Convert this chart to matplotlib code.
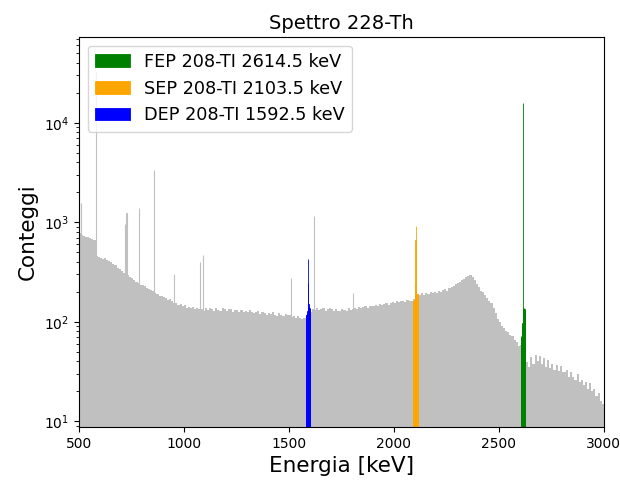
import numpy as np
import matplotlib
matplotlib.use("Agg")
import matplotlib.pyplot as plt

# Continuum counts, 10 keV bins from 500 to 3000 keV
continuum_start = 500
continuum_bin = 10
continuum = [
    775, 748, 724, 706, 716, 690, 680, 662, 455, 448,   # 500-600
    440, 432, 434, 416, 412, 402, 384, 370, 350, 340,   # 600-700
    326, 312, 300, 296, 282, 274, 262, 250, 246, 236,   # 700-800
    232, 228, 218, 212, 210, 202, 196, 192, 182, 180,   # 800-900
    178, 173, 165, 171, 160, 153, 153, 147, 151, 143,   # 900-1000
    147, 139, 142, 137, 142, 133, 138, 133, 134, 129,   # 1000-1100
    137, 131, 139, 133, 129, 138, 130, 127, 136, 133,   # 1100-1200
    128, 135, 133, 125, 131, 130, 124, 132, 126, 127,   # 1200-1300
    124, 130, 126, 121, 125, 128, 119, 124, 122, 117,   # 1300-1400
    122, 119, 124, 116, 115, 121, 117, 113, 119, 116,   # 1400-1500
    118, 112, 114, 108, 115, 109, 107, 110, 116, 118,   # 1500-1600
    126, 135, 131, 138, 130, 133, 136, 129, 134, 137,   # 1600-1700
    133, 129, 134, 128, 127, 134, 130, 128, 136, 131,   # 1700-1800
    135, 137, 134, 142, 138, 141, 144, 138, 145, 143,   # 1800-1900
    145, 147, 144, 152, 148, 151, 155, 149, 153, 158,   # 1900-2000
    154, 160, 157, 160, 162, 158, 166, 161, 163, 169,   # 2000-2100
    174, 180, 186, 193, 186, 194, 192, 197, 195, 201,   # 2100-2200
    196, 203, 201, 207, 213, 205, 217, 221, 231, 239,   # 2200-2300
    247, 253, 263, 268, 279, 286, 295, 283, 265, 239,   # 2300-2400
    226, 206, 197, 184, 173, 161, 153, 137, 123, 107,   # 2400-2500
    99, 91, 87, 81, 79, 73, 72, 65, 63, 57,             # 2500-2600
    58, 60, 44, 39, 35, 44, 38, 46, 40, 45,             # 2600-2700
    38, 43, 35, 41, 34, 38, 33, 37, 32, 36,             # 2700-2800
    31, 31, 33, 28, 31, 28, 26, 30, 25, 26,             # 2800-2900
    23, 25, 21, 24, 20, 21, 18, 19, 16, 15,             # 2900-3000
]

# Gamma lines outside the selected windows (energy keV, counts)
line_energy = [511, 583, 720, 727, 785, 860, 952, 1078, 1093, 1512, 1620, 1806]
line_counts = [1550, 33000, 950, 1230, 1400, 3350, 300, 400, 470, 275, 1150, 196]

# Selected windows, 1 keV bins, +/- 10 keV around each line
dep_center = 1592.5
dep_counts = [114, 117, 112, 118, 116, 121, 128, 136, 146, 432,
              248, 150, 142, 138, 135, 140, 132, 137, 134, 136]
sep_center = 2103.5
sep_counts = [160, 158, 163, 161, 165, 168, 172, 180, 240, 670,
              925, 560, 230, 195, 188, 192, 186, 190, 185, 189]
fep_center = 2614.5
fep_counts = [66, 70, 72, 68, 74, 78, 86, 92, 98, 15700,
              140, 136, 132, 138, 134, 130, 128, 133, 129, 131]

fig = plt.figure(figsize=(6.2, 4.8), dpi=100)
ax = fig.add_axes([0.127, 0.110, 0.847, 0.813])

edges = continuum_start + continuum_bin * np.arange(len(continuum) + 1)
ax.stairs(continuum, edges, fill=True, color="silver", linewidth=0)
ax.bar(line_energy, line_counts, width=1, color="silver",
       edgecolor="silver", linewidth=0.8)


def draw_window(center, counts, color, label):
    lo = center - len(counts) / 2
    centers = lo + 0.5 + np.arange(len(counts))
    ax.bar(centers, counts, width=1, color=color, edgecolor=color,
           linewidth=0.6, label=label)


draw_window(fep_center, fep_counts, "green", "FEP 208-TI 2614.5 keV")
draw_window(sep_center, sep_counts, "orange", "SEP 208-TI 2103.5 keV")
draw_window(dep_center, dep_counts, "blue", "DEP 208-TI 1592.5 keV")

ax.set_yscale("log")
ax.set_xlim(500, 3000)
ax.set_ylim(8.7, 73000)
ax.set_title("Spettro 228-Th", fontsize=14)
ax.set_xlabel("Energia [keV]", fontsize=15.5)
ax.set_ylabel("Conteggi", fontsize=15.5)
ax.legend(loc="upper left", fontsize=12.7)

fig.savefig("out.png", dpi=100)
